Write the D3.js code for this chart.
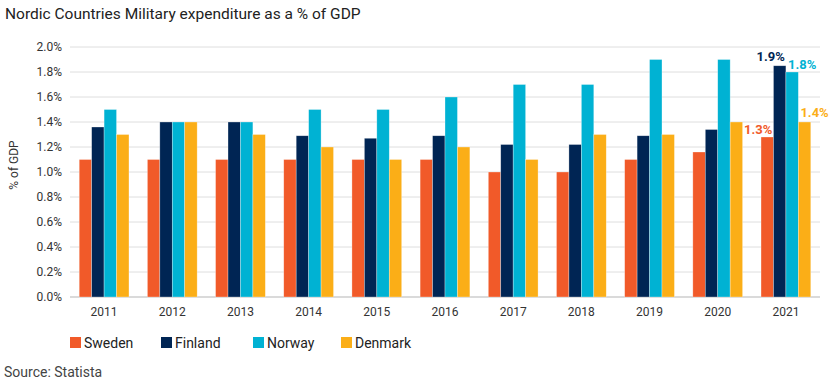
<!DOCTYPE html>
<html><head><meta charset="utf-8">
<script src="https://cdn.jsdelivr.net/npm/d3@7"></script>
<style>body{margin:0;background:#fff}svg{display:block;font-family:Roboto,"Noto Sans",sans-serif}</style>
</head><body><svg id="c" width="830" height="388"></svg>
<script>
const years = ["2011","2012","2013","2014","2015","2016","2017","2018","2019","2020","2021"];
const countries = ["Sweden","Finland","Norway","Denmark"];
const sweden  = [1.1,1.1,1.1,1.1,1.1,1.1,1.0,1.0,1.1,1.16,1.28];
const finland = [1.36,1.4,1.4,1.29,1.27,1.29,1.22,1.22,1.29,1.34,1.85];
const norway  = [1.5,1.4,1.4,1.5,1.5,1.6,1.7,1.7,1.9,1.9,1.8];
const denmark = [1.3,1.4,1.3,1.2,1.1,1.2,1.1,1.3,1.3,1.4,1.4];
const yTicks = [0,0.2,0.4,0.6,0.8,1.0,1.2,1.4,1.6,1.8,2.0];
const lastLabels = ["1.3%","1.9%","1.8%","1.4%"];
const colors = ["#F15A29","#002554","#00B2D3","#FBAE17"];
const series = [sweden, finland, norway, denmark];

const svg = d3.select("#c");
const m = {l:70, r:10, t:47, b:91};
const W = 830, H = 388;
const x0 = d3.scaleBand().domain(years).range([m.l, W - m.r]).paddingInner(0.27).paddingOuter(0.135);
const x1 = d3.scaleBand().domain(countries).range([0, x0.bandwidth()]);
const y = d3.scaleLinear().domain([0, 2.0]).range([H - m.b, m.t]);

// grid
svg.append("g").selectAll("line").data(yTicks).join("line")
  .attr("x1", m.l).attr("x2", W - m.r)
  .attr("y1", d => y(d)).attr("y2", d => y(d))
  .attr("stroke", d => d === 0 ? "#b5b5b5" : "#dedede").attr("stroke-width", 1);

// y labels
svg.append("g").selectAll("text").data(yTicks).join("text")
  .attr("x", 62).attr("y", d => y(d)).attr("dy", "0.35em")
  .attr("text-anchor", "end").attr("font-size", 12).attr("fill", "#333")
  .text(d => d3.format(".1f")(d) + "%");

svg.append("text").attr("transform", "translate(18,165) rotate(-90)")
  .attr("text-anchor", "middle").attr("font-size", 12).attr("fill", "#333").text("% of GDP");

// bars
const g = svg.append("g");
years.forEach((yr, i) => {
  countries.forEach((c, j) => {
    g.append("rect")
      .attr("x", x0(yr) + x1(c)).attr("width", x1.bandwidth())
      .attr("y", y(series[j][i])).attr("height", y(0) - y(series[j][i]))
      .attr("fill", colors[j]).attr("stroke", "rgba(255,255,255,0.5)").attr("stroke-width", 0.6);
  });
});

// x labels
svg.append("g").selectAll("text").data(years).join("text")
  .attr("x", d => x0(d) + x0.bandwidth()/2).attr("y", 316)
  .attr("text-anchor", "middle").attr("font-size", 12).attr("fill", "#333").text(d => d);

// 2021 labels
const last = years[years.length - 1];
const offs = [-9, -9, 10, 10];
const lift = [3, 5, 3, 5];
countries.forEach((c, j) => {
  const v = series[j][years.length - 1];
  svg.append("text")
    .attr("x", x0(last) + x1(c) + x1.bandwidth()/2 + offs[j])
    .attr("y", y(v) - lift[j])
    .attr("text-anchor", "middle").attr("font-size", 13).attr("font-weight", "bold")
    .attr("fill", colors[j]).text(lastLabels[j]);
});

// legend
const legX = [70, 161, 253, 341];
countries.forEach((c, j) => {
  svg.append("rect").attr("x", legX[j]).attr("y", 337).attr("width", 11).attr("height", 11).attr("fill", colors[j]);
  svg.append("text").attr("x", legX[j] + 14).attr("y", 347.5).attr("font-size", 14).attr("fill", "#222").text(c);
});

svg.append("text").attr("x", 5).attr("y", 19).attr("font-size", 15.5).attr("fill", "#222")
  .text("Nordic Countries Military expenditure as a % of GDP");
svg.append("text").attr("x", 4).attr("y", 377).attr("font-size", 14).attr("fill", "#444").text("Source: Statista");
</script></body></html>
